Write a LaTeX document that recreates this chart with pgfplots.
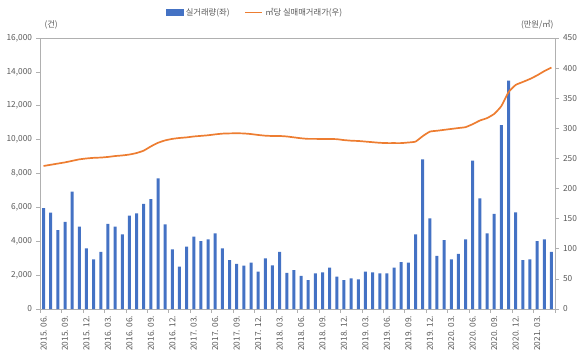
\documentclass[border=0pt]{standalone}
\usepackage{fontspec}
\setmainfont{Noto Sans CJK KR}
\usepackage{pgfplots}
\usepackage{pgfplotstable}
\pgfplotsset{compat=1.18}
\definecolor{barblue}{HTML}{4472C4}
\definecolor{lineorange}{HTML}{ED7D31}
\definecolor{axgray}{HTML}{B0B0B0}
\definecolor{txtgray}{HTML}{595959}

\pgfplotstableread{
i vol price
0 5950 237.5
1 5690 239.5
2 4660 241.5
3 5150 243.5
4 6930 246
5 4860 248.5
6 3580 250
7 2930 251
8 3380 251.5
9 5020 252.5
10 4860 254
11 4410 255
12 5510 256.5
13 5650 259
14 6200 263
15 6490 270
16 7710 276
17 5000 280
18 3520 282.5
19 2500 284
20 3680 285
21 4270 286.5
22 4010 287.5
23 4110 288.5
24 4470 290
25 3580 291.2
26 2890 291.6
27 2660 291.8
28 2560 291.5
29 2740 290.5
30 2200 289
31 2990 287.8
32 2580 287.3
33 3380 287.3
34 2140 286.5
35 2300 285
36 1950 283.5
37 1710 282.5
38 2100 282.5
39 2160 282.3
40 2440 282.3
41 1910 282
42 1710 280.5
43 1810 279.5
44 1750 279
45 2200 278
46 2160 277
47 2100 276
48 2100 275.5
49 2440 275.5
50 2770 275.5
51 2740 276.5
52 4410 278
53 8840 287
54 5350 294.5
55 3130 296
56 4070 297.5
57 2930 299
58 3250 300.5
59 4110 302
60 8760 307
61 6530 313
62 4470 317
63 5610 324
64 10860 337
65 13480 360
66 5710 372
67 2890 377
68 2930 382
69 4010 388
70 4110 395
71 3380 401
}\datatable

\pgfplotsset{
  common/.style={
    at={(0,0)}, anchor=south west,
    scale only axis, width=515pt, height=271pt,
    xmin=-0.5, xmax=71.5,
    clip mode=individual,
    axis line style={axgray, line width=0.8pt},
    tick style={axgray, line width=0.6pt},
    tick align=outside,
    major tick length=3.5pt,
    minor tick length=3.5pt,
    tick label style={font=\fontsize{8.3}{10}\selectfont, text=txtgray},
    /pgf/number format/assume math mode=true,
  },
}

\begin{document}
\begin{tikzpicture}
\useasboundingbox (-40pt,-51pt) rectangle (540pt,309pt);
\begin{axis}[common,
  ymin=0, ymax=16000,
  ytick={0,2000,...,16000},
  /pgf/number format/1000 sep={,},
  /pgf/number format/fixed,
  scaled y ticks=false,
  xtick={0,3,...,69},
  xticklabels={2015. 06., 2015. 09., 2015. 12., 2016. 03., 2016. 06., 2016. 09., 2016. 12., 2017. 03., 2017. 06., 2017. 09., 2017. 12., 2018. 03., 2018. 06., 2018. 09., 2018. 12., 2019. 03., 2019. 06., 2019. 09., 2019. 12., 2020. 03., 2020. 06., 2020. 09., 2020. 12., 2021. 03.},
  xticklabel style={rotate=90, anchor=east},
  major x tick style={draw=none},
  minor xtick={-0.5,2.5,...,71.5},
  xtick pos=bottom,
  ytick pos=left,
  yticklabel style={xshift=-1pt},
]
\addplot[ybar, bar width=0.42, fill=barblue, draw=none] table[x=i, y=vol] {\datatable};
\node[anchor=south west, font=\fontsize{8.3}{10}\selectfont, text=txtgray] at (rel axis cs:0,1) [yshift=5pt, xshift=1pt] {(건)};
\node[anchor=south east, font=\fontsize{8.3}{10}\selectfont, text=txtgray] at (rel axis cs:1,1) [yshift=5pt, xshift=2pt] {(만원/㎡)};
\end{axis}
\begin{axis}[common,
  ymin=0, ymax=450,
  ytick={0,50,...,450},
  axis x line=none,
  axis y line*=right,
  ytick pos=right,
  yticklabel style={xshift=1pt},
  legend style={at={(0.418,1)}, anchor=south, yshift=17pt, draw=none, fill=none,
    legend columns=2, font=\fontsize{8.3}{10}\selectfont, text=txtgray,
    /tikz/every even column/.append style={column sep=13pt}},
]
\addlegendimage{legend image code/.code={\fill[barblue] (0pt,-2.8pt) rectangle (17pt,2.8pt);}}
\addlegendentry{실거래량(좌)}
\addplot[lineorange, line width=1.7pt, smooth, tension=0.3, mark=none,
  legend image code/.code={\draw[lineorange, line width=1.7pt] (0pt,0pt) -- (17pt,0pt);}]
  table[x=i, y=price] {\datatable};
\addlegendentry{㎡당 실매매거래가(우)}
\end{axis}
\end{tikzpicture}
\end{document}
